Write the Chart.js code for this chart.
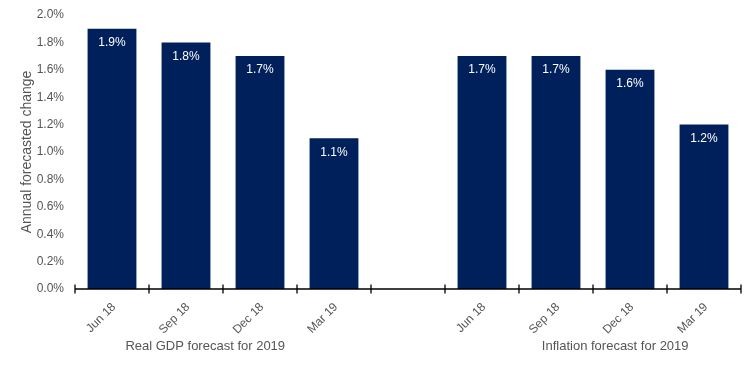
<!DOCTYPE html>
<html><head><meta charset="utf-8">
<script src="https://cdn.jsdelivr.net/npm/chart.js@4.4.0/dist/chart.umd.min.js"></script>
<style>html,body{margin:0;padding:0;background:#fff}#wrap{width:756px;height:371px}</style>
</head><body><div id="wrap"><canvas id="c"></canvas></div>
<script>
const categories = ["Jun 18","Sep 18","Dec 18","Mar 19","","Jun 18","Sep 18","Dec 18","Mar 19"];
const values = [1.9,1.8,1.7,1.1,null,1.7,1.7,1.6,1.2];
const valueLabels = ["1.9%","1.8%","1.7%","1.1%","","1.7%","1.7%","1.6%","1.2%"];
const groupLabels = ["Real GDP forecast for 2019","Inflation forecast for 2019"];
const groupCenters = [1.26, 6.8];
const yTicks = [0,0.2,0.4,0.6,0.8,1.0,1.2,1.4,1.6,1.8,2.0];
const FONT = "'Liberation Sans', Arial, sans-serif";
const TXT = '#555555';

const extras = {
  id:'extras',
  afterDatasetsDraw(chart){
    const ctx = chart.ctx;
    const meta = chart.getDatasetMeta(0);
    ctx.save();
    ctx.fillStyle = '#ffffff';
    ctx.font = '12px ' + FONT;
    ctx.textAlign = 'center';
    ctx.textBaseline = 'middle';
    meta.data.forEach((el,i)=>{
      if (values[i] == null) return;
      ctx.fillText(valueLabels[i], el.x, el.y + 14);
    });
    ctx.restore();
  },
  afterDraw(chart){
    const ctx = chart.ctx;
    const xs = chart.scales.x, ys = chart.scales.y;
    const y0 = ys.getPixelForValue(0);
    const half = (xs.getPixelForValue(1) - xs.getPixelForValue(0)) / 2;
    ctx.save();
    ctx.strokeStyle = '#000';
    ctx.lineWidth = 1.3;
    ctx.beginPath();
    ctx.moveTo(xs.left, y0); ctx.lineTo(xs.right, y0);
    for (let i = 0; i <= categories.length; i++) {
      const px = xs.getPixelForValue(i) - half;
      ctx.moveTo(px, y0 - 4.5); ctx.lineTo(px, y0 + 4.5);
    }
    ctx.stroke();
    ctx.fillStyle = TXT;
    ctx.font = '13px ' + FONT;
    ctx.textAlign = 'center';
    ctx.textBaseline = 'middle';
    groupLabels.forEach((t,i)=>{
      ctx.fillText(t, xs.getPixelForValue(groupCenters[i]), 346);
    });
    ctx.restore();
  }
};

new Chart(document.getElementById('c'), {
  type:'bar',
  data:{ labels: categories, datasets:[{ data: values, backgroundColor:'#00205B', borderWidth:0, categoryPercentage:1, barPercentage:0.66 }]},
  options:{
    responsive:true, maintainAspectRatio:false, animation:false,
    devicePixelRatio:1,
    layout:{ padding:{ top:15, right:15, left:0, bottom:0 } },
    plugins:{ legend:{display:false}, tooltip:{enabled:false} },
    scales:{
      x:{
        grid:{ display:false }, border:{ display:false },
        ticks:{ color:TXT, font:{ family:FONT, size:12 }, maxRotation:45, minRotation:45, padding:3, labelOffset:2 },
        afterFit(s){ s.height = 82; }
      },
      y:{
        min:0, max:2.0,
        afterBuildTicks(s){ s.ticks = yTicks.map(v=>({value:v})); },
        grid:{ display:false, drawTicks:true, tickLength:8 }, border:{ display:false },
        ticks:{ color:TXT, font:{ family:FONT, size:12 }, padding:3, callback:(v)=>Number(v).toFixed(1)+'%' },
        title:{ display:true, text:'Annual forecasted change', color:TXT, font:{ family:FONT, size:14 }, padding:{top:19,bottom:0} },
        afterFit(s){ s.width = 75; }
      }
    }
  },
  plugins:[extras]
});
</script></body></html>
